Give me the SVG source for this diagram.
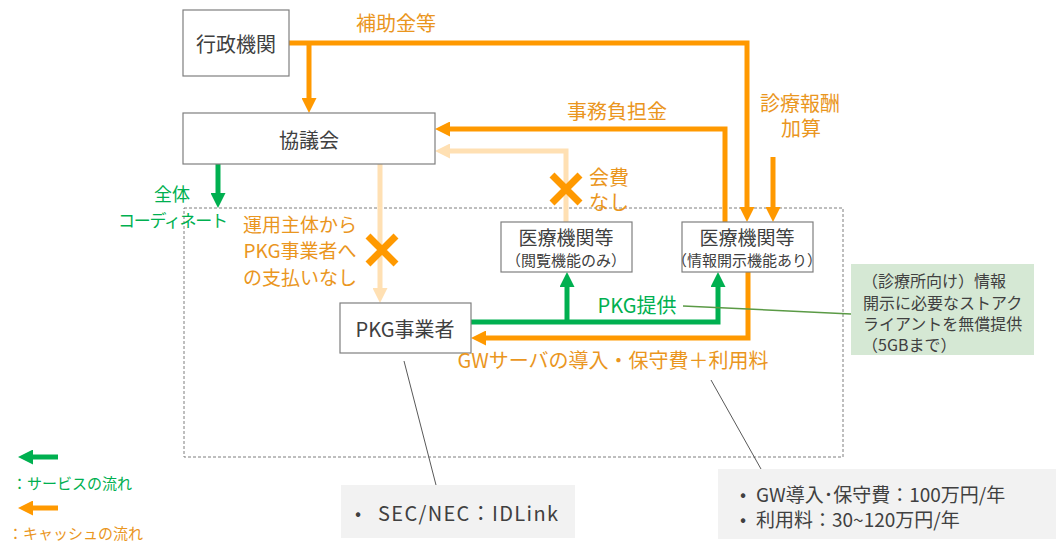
<svg xmlns="http://www.w3.org/2000/svg" width="1057" height="543" viewBox="0 0 1057 543">
<style>
text{font-family:"Noto Sans CJK JP","Noto Sans",sans-serif;dominant-baseline:central}
.box{fill:#fff;stroke:#7f7f7f;stroke-width:1.2}
.nt{font-size:20px;fill:#404040;text-anchor:middle}
.sub{font-size:15px;fill:#404040;text-anchor:middle}
.ol{font-size:20px;fill:#ea961e;text-anchor:middle}
.gl{font-size:20px;fill:#00b050;text-anchor:middle}
.or{fill:none;stroke:#ff9900;stroke-width:5}
.lt{fill:none;stroke:#ffe0b3;stroke-width:5}
.gr{fill:none;stroke:#00b050;stroke-width:5}
.x{stroke:#ff9900;stroke-width:7;fill:none}
.call{fill:#404040}
</style>
<defs>
<marker id="ao" markerUnits="userSpaceOnUse" markerWidth="15" markerHeight="15" viewBox="0 0 15 15" refX="5" refY="7.5" orient="auto"><path d="M0,0L15,7.5L0,15z" fill="#ff9900"/></marker>
<marker id="al" markerUnits="userSpaceOnUse" markerWidth="15" markerHeight="15" viewBox="0 0 15 15" refX="5" refY="7.5" orient="auto"><path d="M0,0L15,7.5L0,15z" fill="#ffe0b3"/></marker>
<marker id="ag" markerUnits="userSpaceOnUse" markerWidth="15" markerHeight="15" viewBox="0 0 15 15" refX="5" refY="7.5" orient="auto"><path d="M0,0L15,7.5L0,15z" fill="#00b050"/></marker>
</defs>

<rect x="184" y="208" width="659" height="249" fill="none" stroke="#7f7f7f" stroke-width="1" stroke-dasharray="3,2"/>

<g id="connectors">
<path class="or" d="M289,43H747V212" marker-end="url(#ao)"/>
<path class="or" d="M309,43V103" marker-end="url(#ao)"/>
<path class="or" d="M725,222V129H445" marker-end="url(#ao)"/>
<path class="lt" d="M566,222V151H445" marker-end="url(#al)"/>
<path class="or" d="M773,157V212" marker-end="url(#ao)"/>
<path class="gr" d="M218,164V198" marker-end="url(#ag)"/>
<path class="lt" d="M380,164V293" marker-end="url(#al)"/>
<path class="gr" d="M471,322H718V282" marker-end="url(#ag)"/>
<path class="gr" d="M567,322V282" marker-end="url(#ag)"/>
<path class="or" d="M748,272V338H481" marker-end="url(#ao)"/>
<path class="x" d="M368,236L396,264M396,236L368,264"/>
<path class="x" d="M552,175L580,203M580,175L552,203"/>
<line x1="683" y1="306" x2="851" y2="314" stroke="#5a9a45" stroke-width="1.5"/>
<line x1="404" y1="361" x2="436" y2="485" stroke="#595959" stroke-width="1"/>
<line x1="711" y1="380" x2="761" y2="469" stroke="#595959" stroke-width="1"/>
</g>

<g id="n-gyosei"><rect class="box" x="183" y="10" width="106" height="66"/><text class="nt" x="236" y="43">行政機関</text></g>
<g id="n-kyogikai"><rect class="box" x="183" y="113" width="252" height="51"/><text class="nt" x="309" y="139">協議会</text></g>
<g id="n-pkg"><rect class="box" x="340" y="303" width="131" height="50"/><text class="nt" x="405" y="328">PKG事業者</text></g>
<g id="n-iryo1"><rect class="box" x="501" y="222" width="131" height="50"/><text class="nt" x="566" y="236" style="font-size:19px">医療機関等</text><text class="sub" x="566" y="259">（閲覧機能のみ）</text></g>
<g id="n-iryo2"><rect class="box" x="682" y="222" width="131" height="50"/><text class="nt" x="747" y="236" style="font-size:19px">医療機関等</text><text class="sub" x="747" y="259">（情報開示機能あり）</text></g>

<g id="labels">
<text class="ol" x="396" y="22">補助金等</text>
<text class="ol" x="617" y="110">事務負担金</text>
<text class="ol" x="800" y="102">診療報酬</text>
<text class="ol" x="801" y="127">加算</text>
<text class="ol" x="609" y="176">会費</text>
<text class="ol" x="609" y="201">なし</text>
<text class="ol" x="300" y="223" style="font-size:19px">運用主体から</text>
<text class="ol" x="300" y="249" style="font-size:19px">PKG事業者へ</text>
<text class="ol" x="300" y="276" style="font-size:19px">の支払いなし</text>
<text class="ol" x="613" y="359">GWサーバの導入・保守費＋利用料</text>
<text class="gl" x="637" y="304">PKG提供</text>
<text class="gl" x="172" y="193" style="font-size:18px">全体</text>
<text class="gl" x="173" y="219" style="font-size:17px" textLength="110">コーディネート</text>
</g>

<g id="n-note-green">
<rect x="851" y="264" width="183" height="91" fill="#d5e8d4"/>
<text class="call" x="862" y="280" style="font-size:16px">（診療所向け）情報</text>
<text class="call" x="863" y="302" style="font-size:16px">開示に必要なストアク</text>
<text class="call" x="863" y="323" style="font-size:16px">ライアントを無償提供</text>
<text class="call" x="862" y="344" style="font-size:16px">（5GBまで）</text>
</g>

<g id="n-note-sec">
<rect x="341" y="485" width="234" height="53" fill="#f2f2f2"/>
<text class="call" x="355" y="512" style="font-size:18px">•</text>
<text class="call" x="378" y="512" style="font-size:20px" textLength="180">SEC/NEC：IDLink</text>
</g>

<g id="n-note-gw">
<rect x="718" y="469" width="338" height="70" fill="#f2f2f2"/>
<text class="call" x="740" y="493" style="font-size:18px">•</text>
<text class="call" x="756" y="493" style="font-size:19px">GW導入･保守費：100万円/年</text>
<text class="call" x="740" y="518" style="font-size:18px">•</text>
<text class="call" x="756" y="518" style="font-size:19px">利用料：30~120万円/年</text>
</g>

<g id="legend">
<path class="gr" d="M58,457H28" marker-end="url(#ag)"/>
<text x="12" y="482" style="font-size:15px;fill:#00b050">：サービスの流れ</text>
<path class="or" d="M58,508H28" marker-end="url(#ao)"/>
<text x="8" y="532" style="font-size:15px;fill:#ea961e">：キャッシュの流れ</text>
</g>
</svg>
